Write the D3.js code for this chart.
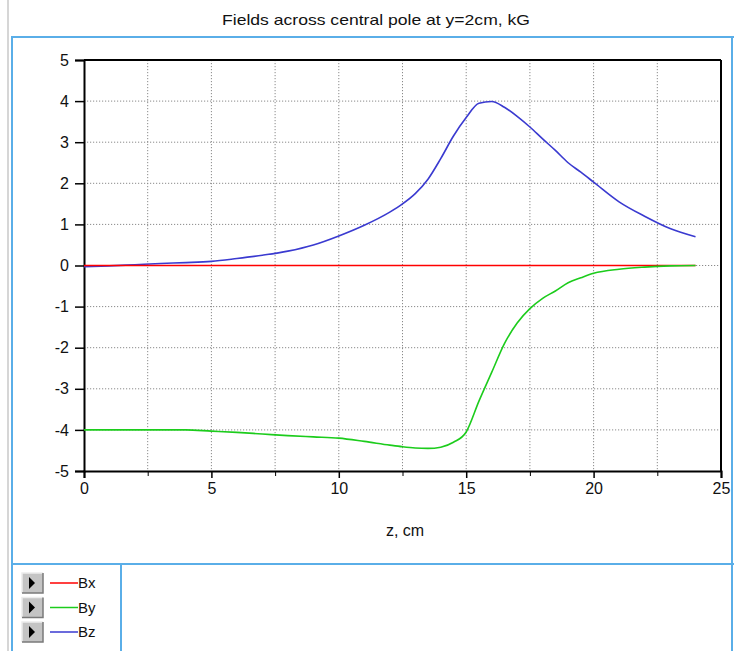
<!DOCTYPE html>
<html>
<head>
<meta charset="utf-8">
<script src="https://cdnjs.cloudflare.com/ajax/libs/d3/7.8.5/d3.min.js"></script>
<style>
  body { margin: 0; background: #fff; }
  text { font-family: Arial, "Liberation Sans", sans-serif; fill: #111; }
</style>
</head>
<body>
<svg width="734" height="651"></svg>
<script>
// data
var zValues = [0, 1, 2, 3, 4, 5, 6, 7, 8, 9, 10, 11, 12, 12.5, 13, 13.5, 14, 14.5,
               15, 15.5, 16, 16.5, 17, 17.5, 18, 18.5, 19, 19.5, 20, 21, 22, 23, 24];
var bx = [0, 0, 0, 0, 0, 0, 0, 0, 0, 0, 0, 0, 0, 0, 0, 0, 0, 0,
          0, 0, 0, 0, 0, 0, 0, 0, 0, 0, 0, 0, 0, 0, 0];
var by = [-4.0, -4.0, -4.0, -4.0, -4.0, -4.03, -4.06, -4.1, -4.14, -4.17, -4.2, -4.28, -4.37, -4.41,
          -4.44, -4.45, -4.42, -4.3, -4.05, -3.3, -2.6, -1.9, -1.4, -1.05, -0.8, -0.62,
          -0.42, -0.3, -0.19, -0.09, -0.04, -0.01, 0.0];
var bz = [-0.03, -0.01, 0.02, 0.05, 0.07, 0.1, 0.17, 0.25, 0.35, 0.5, 0.72, 0.98, 1.3, 1.5,
          1.75, 2.1, 2.6, 3.15, 3.6, 3.95, 3.99, 3.85, 3.63, 3.37, 3.08, 2.8, 2.5, 2.27,
          2.03, 1.55, 1.2, 0.9, 0.7];
var seriesNames = ["Bx", "By", "Bz"];
var seriesColors = ["#ff0000", "#1ccc1c", "#3a3ad0"];
var xTicks = [0, 5, 10, 15, 20, 25];
var xMinor = [2.5, 7.5, 12.5, 17.5, 22.5];
var yTicks = [-5, -4, -3, -2, -1, 0, 1, 2, 3, 4, 5];

var margin = {top: 60, left: 84},
    width = 721 - 84,
    height = 471 - 60;

var svg = d3.select("svg");

// outer frame
svg.append("line").attr("x1", 8).attr("x2", 8).attr("y1", 0).attr("y2", 651)
    .attr("stroke", "#c9c9c9").attr("stroke-width", 1.5);
svg.append("line").attr("x1", 11).attr("x2", 734).attr("y1", 37).attr("y2", 37)
    .attr("stroke", "#5aaee8").attr("stroke-width", 2);
svg.append("line").attr("x1", 12).attr("x2", 12).attr("y1", 36).attr("y2", 651)
    .attr("stroke", "#5aaee8").attr("stroke-width", 2);
svg.append("line").attr("x1", 732).attr("x2", 732).attr("y1", 36).attr("y2", 651)
    .attr("stroke", "#5aaee8").attr("stroke-width", 2);
svg.append("line").attr("x1", 11).attr("x2", 734).attr("y1", 564).attr("y2", 564)
    .attr("stroke", "#5aaee8").attr("stroke-width", 2);
svg.append("line").attr("x1", 121).attr("x2", 121).attr("y1", 564).attr("y2", 651)
    .attr("stroke", "#5aaee8").attr("stroke-width", 2);

// title
svg.append("text")
    .attr("x", 222)
    .attr("y", 25)
    .attr("textLength", 308)
    .attr("lengthAdjust", "spacingAndGlyphs")
    .style("font-size", "15px")
    .text("Fields across central pole at y=2cm, kG");

var g = svg.append("g")
    .attr("transform", "translate(" + margin.left + "," + margin.top + ")");

var x = d3.scaleLinear().domain([0, 25]).range([0, width]);
var y = d3.scaleLinear().domain([-5, 5]).range([height, 0]);

// grid
g.append("g").selectAll("line")
    .data(xTicks.concat(xMinor).filter(function(d) { return d > 0 && d < 25; }))
    .enter().append("line")
      .attr("x1", function(d) { return x(d); })
      .attr("x2", function(d) { return x(d); })
      .attr("y1", 0).attr("y2", height)
      .attr("stroke", "#8a8a8a").attr("stroke-dasharray", "1.2,1.8");
g.append("g").selectAll("line")
    .data(yTicks.filter(function(d) { return d > -5 && d < 5; }))
    .enter().append("line")
      .attr("y1", function(d) { return y(d); })
      .attr("y2", function(d) { return y(d); })
      .attr("x1", 0).attr("x2", width)
      .attr("stroke", "#8a8a8a").attr("stroke-dasharray", "1.2,1.8");

// axes
var xAxis = g.append("g")
    .attr("transform", "translate(0," + height + ")")
    .call(d3.axisBottom(x).tickValues(xTicks).tickSize(7).tickPadding(5).tickFormat(d3.format("d")));
g.append("g")
    .attr("transform", "translate(0," + height + ")")
    .call(d3.axisBottom(x).tickValues(xMinor).tickSize(5).tickFormat(""))
    .select(".domain").remove();
var yAxis = g.append("g")
    .call(d3.axisLeft(y).tickValues(yTicks).tickSize(9).tickPadding(6)
      .tickFormat(function(d) { return d < 0 ? "-" + Math.abs(d) : d; }));
[xAxis, yAxis].forEach(function(a) {
  a.selectAll("text").style("font-size", "16px").attr("fill", "#111");
  a.selectAll("line").attr("stroke", "#000").attr("stroke-width", 1.5);
  a.select(".domain").attr("stroke", "#000").attr("stroke-width", 2);
});

// box
g.append("line").attr("x1", 0).attr("x2", width).attr("y1", 0).attr("y2", 0)
    .attr("stroke", "#000").attr("stroke-width", 2);
g.append("line").attr("x1", width).attr("x2", width).attr("y1", 0).attr("y2", height)
    .attr("stroke", "#000").attr("stroke-width", 2);

// x label
svg.append("text")
    .attr("x", 405)
    .attr("y", 536)
    .attr("text-anchor", "middle")
    .style("font-size", "16px")
    .text("z, cm");

// curves
var line = d3.line()
    .x(function(d) { return x(d[0]); })
    .y(function(d) { return y(d[1]); })
    .curve(d3.curveMonotoneX);
var series = [bx, by, bz];
[2, 0, 1].forEach(function(i) {
  g.append("path")
    .datum(zValues.map(function(z, k) { return [z, series[i][k]]; }))
    .attr("fill", "none")
    .attr("stroke", seriesColors[i])
    .attr("stroke-width", 1.6)
    .attr("d", line);
});

// legend
var legend = svg.append("g").selectAll("g")
    .data(seriesNames)
    .enter().append("g")
      .attr("transform", function(d, i) { return "translate(22," + (573 + i * 24.5) + ")"; });
legend.append("rect")
    .attr("width", 21).attr("height", 20)
    .attr("fill", "#c4c4c4");
legend.append("path")
    .attr("d", "M0,20V0H21")
    .attr("fill", "none").attr("stroke", "#ececec").attr("stroke-width", 1.5);
legend.append("path")
    .attr("d", "M0,20H21V0")
    .attr("fill", "none").attr("stroke", "#7a7a7a").attr("stroke-width", 1.5);
legend.append("path")
    .attr("d", "M7,4L13,10L7,16Z")
    .attr("fill", "#000");
legend.append("line")
    .attr("x1", 28).attr("x2", 56).attr("y1", 10).attr("y2", 10)
    .attr("stroke", function(d, i) { return seriesColors[i]; })
    .attr("stroke-width", 1.5);
legend.append("text")
    .attr("x", 56).attr("y", 15)
    .style("font-size", "15px")
    .text(function(d) { return d; });
</script>
</body>
</html>
